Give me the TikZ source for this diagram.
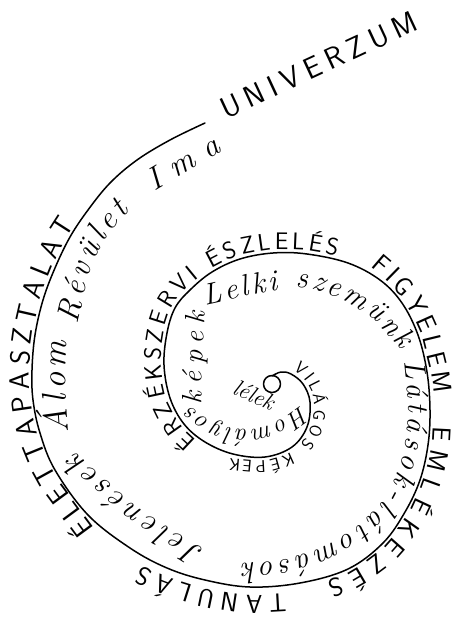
\documentclass[tikz,border=0pt]{standalone}
\usepackage{fontspec}
\usetikzlibrary{decorations.text}
\newcommand\spcaps[1]{\sffamily\fontsize{#1}{#1}\selectfont}
\newcommand\sphand[1]{\itshape\fontsize{#1}{#1}\selectfont}
\tikzset{
  spiral/.style={line width=1.5pt, line cap=round, line join=round},
  ptext/.style 2 args={rounded corners=10pt, decorate, decoration={text along path, text={#1}, text align={fit to path}, raise=#2}},
}
\begin{document}
\begin{tikzpicture}[x=1pt,y=-1pt]
\useasboundingbox (0,0) rectangle (474,627);
\draw[spiral] plot[smooth, tension=0.6] coordinates {(205,123) (170,140) (137,160) (110,183) (88,210) (70,237) (55,268) (43,300) (35,335) (32,370) (33,400) (40,433) (55,470) (88,515) (130,548) (167,568) (205,580) (250,587) (300,583) (348,569) (383,543) (405,512) (420,480) (428,445) (430,410) (427,372) (418,335) (402,303) (380,280) (348,263) (307,254) (273,253) (240,259) (212,272) (190,290) (175,308) (167,333) (164,365) (170,398) (184,424) (205,442) (233,454) (265,457) (292,447) (307,427) (310,402) (303,384) (291,374) (281,372) (272,376)};
\draw[spiral] (272,384) circle[radius=8.5];
\path[ptext={|\spcaps{30}|UNIVERZUM}{0pt}] (226,119) -- (420,29);
\path[ptext={|\spcaps{28}|ÉLETTAPASZTALAT}{3pt}] (97,527) -- (55,470) -- (40,433) -- (33,400) -- (32,370) -- (35,335) -- (43,300) -- (55,268) -- (70,237) -- (78,226);
\path[ptext={|\sphand{34}|Álom}{0pt}] (68,432) -- (65,388) -- (67,341);
\path[ptext={|\sphand{32}|Révület}{0pt}] (77,324) -- (90,268) -- (108,234) -- (130,211);
\path[ptext={|\sphand{32}|Ima}{0pt}] (154,191) -- (222,151);
\path[ptext={|\sphand{32}|Jelenések}{0pt}] (205,550) -- (136,507) -- (76,453);
\path[ptext={|\spcaps{26}|TANULÁS}{9pt}] (285,585) -- (250,587) -- (205,580) -- (167,568) -- (145,557);
\path[ptext={|\spcaps{26}|EMLÉKEZÉS}{4pt}] (429,426) -- (428,445) -- (420,480) -- (405,512) -- (383,543) -- (348,569) -- (325,577);
\path[ptext={|\sphand{30}|Látások-látomások}{0pt}] (404,361) -- (409,410) -- (405,450) -- (396,478) -- (385,500) -- (355,530) -- (320,549) -- (280,561) -- (242,564);
\path[ptext={|\spcaps{26}|FIGYELEM}{4pt}] (368,270) -- (380,280) -- (402,303) -- (418,335) -- (427,372) -- (430,394);
\path[ptext={|\spcaps{24}|ÉRZÉKSZERVI ÉSZLELÉS}{4pt}] (199,438) -- (184,424) -- (170,398) -- (164,365) -- (167,333) -- (175,308) -- (190,290) -- (212,272) -- (240,259) -- (273,253) -- (307,254) -- (336,260);
\path[ptext={|\sphand{30}|Lelki szemünk}{0pt}] (205,305) -- (255,294) -- (305,287) -- (345,300) -- (375,320) -- (402,350);
\path[ptext={|\sphand{28}|képek}{0pt}] (201,404) -- (203,358) -- (205,312);
\path[ptext={|\sphand{25}|Homályos}{0pt}] (301,405) -- (275,424) -- (245,431) -- (215,425) -- (190,407);
\path[ptext={|\spcaps{17}|VILÁGOS KÉPEK}{5pt}] (290,373) -- (303,384) -- (310,402) -- (307,427) -- (292,447) -- (265,457) -- (230,454);
\node[rotate=-24, font=\sphand{23}, inner sep=0pt] (lelek) at (254,395) {lélek};
\end{tikzpicture}
\end{document}
